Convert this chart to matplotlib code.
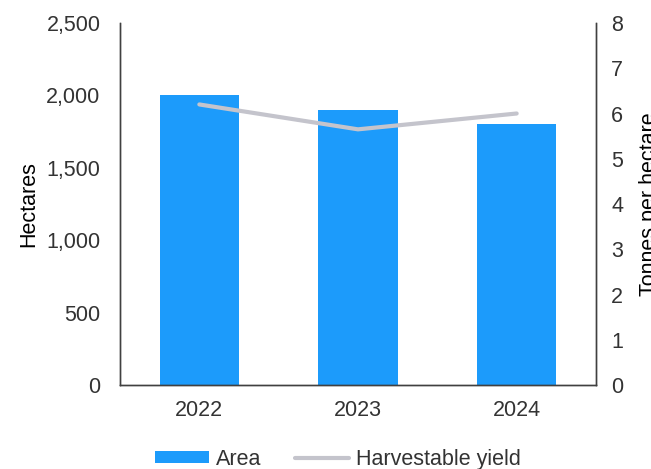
#!/usr/bin/env python3
"""Planted area and harvestable yield by year."""
import matplotlib

matplotlib.use("Agg")
import matplotlib.pyplot as plt
from matplotlib.ticker import FuncFormatter, MultipleLocator

years = ["2022", "2023", "2024"]
area_ha = [2000, 1900, 1800]
yield_t_per_ha = [6.2, 5.65, 6.0]

BAR_COLOR = "#1C9BFB"
LINE_COLOR = "#C4C4CC"
SPINE_COLOR = "#404040"
TEXT_COLOR = "#333333"

plt.rcParams.update(
    {
        "font.family": ["Liberation Sans", "DejaVu Sans"],
        "font.size": 15.5,
        "text.color": TEXT_COLOR,
        "xtick.color": TEXT_COLOR,
        "ytick.color": TEXT_COLOR,
    }
)

fig = plt.figure(figsize=(6.51, 4.69), dpi=100)
ax = fig.add_axes([120 / 651, 84 / 469, 476 / 651, 362 / 469])
ax2 = ax.twinx()

x = range(len(years))
bars = ax.bar(x, area_ha, width=0.5, color=BAR_COLOR, label="Area", zorder=2)
(line,) = ax2.plot(
    x, yield_t_per_ha, color=LINE_COLOR, linewidth=3.0,
    solid_capstyle="round", solid_joinstyle="miter", label="Harvestable yield",
)

ax.set_xlim(-0.5, 2.5)
ax.set_xticks(list(x))
ax.set_xticklabels(years)
ax.set_ylim(0, 2500)
ax.yaxis.set_major_locator(MultipleLocator(500))
ax.yaxis.set_major_formatter(FuncFormatter(lambda v, _: f"{v:,.0f}"))
ax2.set_ylim(0, 8)
ax2.yaxis.set_major_locator(MultipleLocator(1))

ax.set_ylabel("Hectares", labelpad=5)
ax2.set_ylabel("Tonnes per hectare", rotation=90, labelpad=11)

for a in (ax, ax2):
    a.spines["top"].set_visible(False)
    for side in ("left", "right", "bottom"):
        a.spines[side].set_color(SPINE_COLOR)
        a.spines[side].set_linewidth(1.0)
ax.tick_params(axis="y", length=0, pad=14)
ax.tick_params(axis="x", length=0, pad=11)
ax2.tick_params(axis="y", length=0, pad=11)

fig.legend(
    [bars, line], ["Area", "Harvestable yield"],
    loc="center", bbox_to_anchor=(338 / 651, 10 / 469), ncol=2, frameon=False,
    fontsize=15.5, handlelength=2.5, handleheight=0.45, handletextpad=0.3,
    columnspacing=1.6,
)

fig.savefig("out.png", dpi=100)
